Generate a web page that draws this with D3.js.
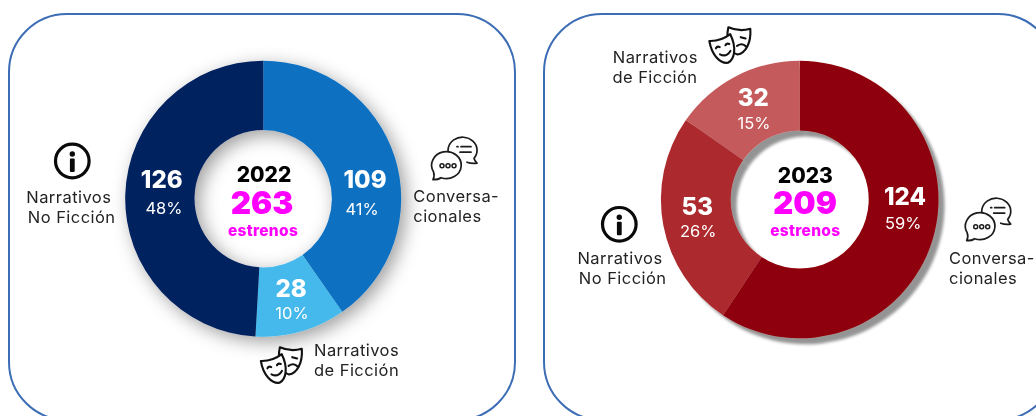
<!DOCTYPE html>
<html><head><meta charset="utf-8">
<script src="https://cdnjs.cloudflare.com/ajax/libs/d3/7.8.5/d3.min.js"></script>
<style>html,body{margin:0;padding:0;background:#fff;overflow:hidden}svg{display:block;filter:blur(0.35px)}text{font-family:Inter,"Open Sans",sans-serif}</style>
</head><body><div id="chart"></div>
<script>
// data
const categories = ["Conversacionales", "Narrativos de Ficción", "Narrativos No Ficción"];
const years = ["2022", "2023"];
const totals = ["263", "209"];
const totalCaption = "estrenos";
const counts2022 = [109, 28, 126];
const percents2022 = ["41%", "10%", "48%"];
const arcShare2022 = [40.3, 10.6, 49.1];      // slice sizes as drawn
const counts2023 = [124, 32, 53];
const percents2023 = ["59%", "15%", "26%"];
const arcShare2023 = [59.3, 15.3, 25.4];
const colors2022 = ["#0d6fc0", "#45b9ec", "#02205f"];
const colors2023 = ["#8e0308", "#c45a5c", "#ac2a2f"];
// drawing order of slices clockwise from the top
const order2022 = [0, 1, 2];
const order2023 = [0, 2, 1];

const W = 1036, H = 416;
const svg = d3.select("#chart").append("svg").attr("width", W).attr("height", H);
const defs = svg.append("defs");
function shadow(id, dx, dy, sd, op) {
  defs.append("filter").attr("id", id).attr("x", "-30%").attr("y", "-30%").attr("width", "160%").attr("height", "160%")
    .append("feDropShadow").attr("dx", dx).attr("dy", dy).attr("stdDeviation", sd)
    .attr("flood-color", "#000").attr("flood-opacity", op);
}
shadow("softShadow", 5, 5, 9, 0.38);
shadow("hardShadow", 6, 6, 1.6, 0.42);

const TXT = "#222";
function txt(g, s, x, y, size, weight, fill, anchor, spacing) {
  return g.append("text").attr("x", x).attr("y", y).attr("font-size", size).attr("font-weight", weight)
    .attr("fill", fill).attr("text-anchor", anchor || "middle").attr("letter-spacing", spacing || 0).text(s);
}
function infoIcon(g, x, y) {
  const i = g.append("g").attr("transform", `translate(${x},${y})`);
  i.append("circle").attr("r", 16.8).attr("fill", "none").attr("stroke", "#0a0a0a").attr("stroke-width", 3.2);
  i.append("circle").attr("cy", -7).attr("r", 2.7).attr("fill", "#0a0a0a");
  i.append("rect").attr("x", -2.4).attr("y", -2.5).attr("width", 4.8).attr("height", 13.5).attr("rx", 1).attr("fill", "#0a0a0a");
}
function chatIcon(g, x, y) {
  // x,y = centre of the lower-left bubble
  const i = g.append("g").attr("transform", `translate(${x},${y})`)
    .attr("fill", "none").attr("stroke", "#1c1c1c").attr("stroke-width", 1.7).attr("stroke-linecap", "round").attr("stroke-linejoin", "round");
  i.append("path").attr("d", "M3,-9 A14.5,13 0 1 1 27,-7.5 C27.5,-5.5 28.5,-4 30,-2.5 C26,-2 22.5,-2.5 20,-3.5");
  i.append("path").attr("d", "M-14,14 C-12.5,11 -12.5,9 -13.5,6 A14.8,13.5 0 1 1 -6,12 C-8,13.5 -11,14 -14,14 Z").attr("fill", "#fff");
  i.selectAll("circle.d").data([-6, 0, 6]).enter().append("circle").attr("cx", d => d + 1).attr("r", 2).attr("stroke-width", 1.5);
  i.append("path").attr("d", "M14,-19 H24 M10,-19 H11 M13,-13.5 H24");
}
function masksIcon(g, x, y) {
  // x,y = top-left of the 40x36 icon box
  const i = g.append("g").attr("transform", `translate(${x},${y})`)
    .attr("stroke", "#111").attr("stroke-width", 2.1).attr("stroke-linecap", "round").attr("stroke-linejoin", "round");
  const m = "M-11,-12 Q0,-8 11,-12 C13,2 8,13 0,14.5 C-8,13 -13,2 -11,-12 Z";
  const b = i.append("g").attr("transform", "translate(28,13) rotate(4)");
  b.append("path").attr("d", m).attr("fill", "#fff");
  b.append("path").attr("d", "M2,-3 L7,-2 M-1,6 Q4,2 8,6").attr("fill", "none");
  const f = i.append("g").attr("transform", "translate(13,22) rotate(-18)");
  f.append("path").attr("d", m).attr("fill", "#fff");
  f.append("path").attr("d", "M-7,-3 Q-5,-5 -3,-3 M3,-3 Q5,-5 7,-3 M-5,4 Q0,9 6,4").attr("fill", "none");
}

const pie = d3.pie().sort(null).value(d => d.share);
function donut(cfg) {
  const g = svg.append("g");
  g.append("rect").attr("x", cfg.px).attr("y", 14).attr("width", cfg.pw).attr("height", 406).attr("rx", 58)
    .attr("fill", "#fff").attr("stroke", "#3d6db5").attr("stroke-width", 2);
  const rows = cfg.order.map(i => ({share: cfg.share[i], color: cfg.colors[i]}));
  const arc = d3.arc().innerRadius(cfg.r0).outerRadius(cfg.r1);
  g.append("g").attr("transform", `translate(${cfg.cx},${cfg.cy})`).attr("filter", `url(#${cfg.filter})`)
    .selectAll("path").data(pie(rows)).enter().append("path").attr("d", arc).attr("fill", d => d.data.color);
  cfg.labels.forEach((l, i) => {
    txt(g, cfg.counts[i], l[0], l[1], 24, 800, "#fff");
    txt(g, cfg.percents[i], l[2], l[3], 16.5, 400, "#fff");
  });
  txt(g, cfg.year, cfg.tx, cfg.ty, 21, 800, "#000");
  txt(g, cfg.total, cfg.tx2, 214, 31.5, 900, "#ff00ff");
  txt(g, totalCaption, cfg.tx3, 236.3, 15.5, 800, "#ff00ff", "middle", 0.3);
}

donut({px: 9, pw: 506, cx: 263.2, cy: 198.7, r1: 138, r0: 68.7, filter: "softShadow",
  share: arcShare2022, colors: colors2022, order: order2022, year: years[0], total: totals[0],
  counts: counts2022, percents: percents2022, tx: 264, ty: 181.7, tx2: 262, tx3: 263,
  labels: [[365, 187.7, 362, 214.5], [291, 296.7, 292, 319], [161.7, 187.7, 164, 214]]});
donut({px: 544, pw: 512, cx: 799.7, cy: 199.5, r1: 138.8, r0: 69, filter: "hardShadow",
  share: arcShare2023, colors: colors2023, order: order2023, year: years[1], total: totals[1],
  counts: counts2023, percents: percents2023, tx: 805.3, ty: 182.7, tx2: 805, tx3: 805.3,
  labels: [[905, 205, 903.3, 228.7], [753.3, 106, 754, 128.7], [697.3, 215.3, 698.3, 237.3]]});

const g = svg.append("g");
const LS = 16.5, SP = 0.45;
function lbl(s, x, y, a) { txt(g, s, x, y, LS, 400, TXT, a, SP); }
lbl("Narrativos", 68.8, 203.3); lbl("No Ficción", 71.7, 223.3);
lbl("Conversa-", 413.3, 202.3, "start"); lbl("cionales", 413.3, 222.3, "start");
lbl("Narrativos", 314, 356, "start"); lbl("de Ficción", 314, 376, "start");
lbl("Narrativos", 620, 264); lbl("No Ficción", 622.7, 284);
lbl("Conversa-", 949, 264, "start"); lbl("cionales", 949, 284, "start");
lbl("Narrativos", 655.3, 63.3); lbl("de Ficción", 655, 83.3);
infoIcon(g, 72.3, 161); infoIcon(g, 619.3, 224.3);
chatIcon(g, 447, 165.7); chatIcon(g, 980.7, 226.7);
masksIcon(g, 262, 347); masksIcon(g, 710.5, 27);
</script></body></html>
